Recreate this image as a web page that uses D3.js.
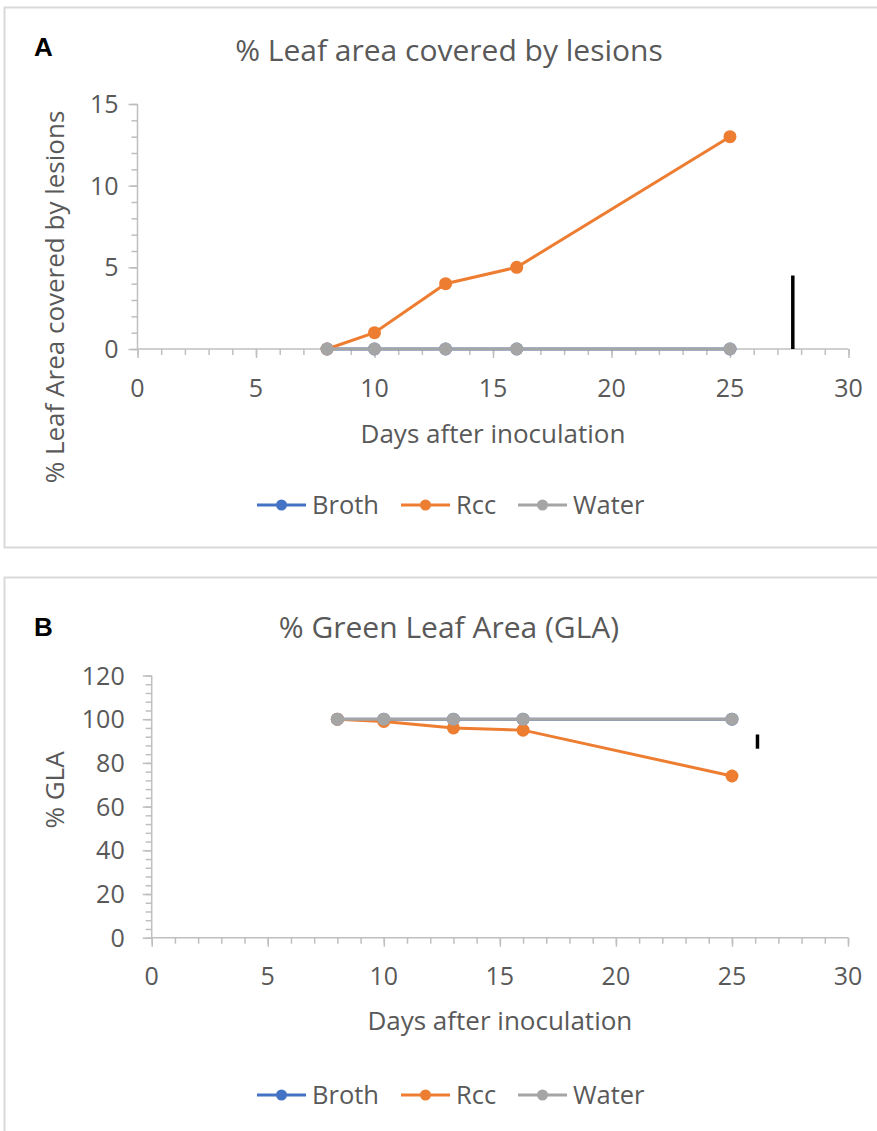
<!DOCTYPE html>
<html>
<head>
<meta charset="utf-8">
<script src="https://cdn.jsdelivr.net/npm/d3@7"></script>
<style>
  body { margin: 0; background: #fff; }
  text { font-family: "Open Sans", sans-serif; fill: #595959; }
</style>
</head>
<body>
<svg width="877" height="1131"></svg>
<script>
// data
var days = [8, 10, 13, 16, 25];
var seriesNames = ["Broth", "Rcc", "Water"];
var seriesColors = ["#4472C4", "#ED7D31", "#A5A5A5"];

var lesionBroth = [0, 0, 0, 0, 0];
var lesionRcc = [0, 1, 4, 5, 13];
var lesionWater = [0, 0, 0, 0, 0];

var glaBroth = [100, 100, 100, 100, 100];
var glaRcc = [100, 99, 96, 95, 74];
var glaWater = [100, 100, 100, 100, 100];

// black bar drawn at the right of each plot: [day, low, high]
var barA = [27.65, 0, 4.5];
var barB = [26.1, 86.5, 93];

var xTicks = [0, 5, 10, 15, 20, 25, 30];
var yTicksA = [0, 5, 10, 15];
var yTicksB = [0, 20, 40, 60, 80, 100, 120];

var svg = d3.select("svg");
svg.append("rect").attr("width", 877).attr("height", 1131).attr("fill", "#fff");

function drawPanel(p) {
  var g = svg.append("g");

  // frame around the panel
  g.append("rect")
    .attr("x", 4.5).attr("y", p.top + 0.5)
    .attr("width", 880).attr("height", p.frameH)
    .attr("fill", "none").attr("stroke", "#d9d9d9").attr("stroke-width", 2);

  g.append("text").text(p.letter)
    .attr("x", 34).attr("y", p.letterY)
    .style("font-family", "'Liberation Sans', Arial, sans-serif")
    .style("font-weight", "bold").style("font-size", "26px").style("fill", "#000");

  g.append("text").text(p.title)
    .attr("x", 449).attr("y", p.titleY)
    .attr("text-anchor", "middle").style("font-size", "30px");

  var x = d3.scaleLinear().domain([0, 30]).range([p.x0, p.x1]);
  var y = d3.scaleLinear().domain([0, p.ymax]).range([p.y0, p.y1]);

  // minor ticks
  var xAxisG = g.append("g").attr("transform", "translate(0," + p.y0 + ")");
  xAxisG.call(d3.axisBottom(x).tickValues(d3.range(0, 31, 1)).tickSize(6).tickFormat(""));
  xAxisG.append("g").call(d3.axisBottom(x).tickValues(xTicks).tickSize(9).tickFormat(""));
  xAxisG.selectAll("path, line").attr("stroke", "#bfbfbf").attr("stroke-width", 1.5);

  var yAxisG = g.append("g").attr("transform", "translate(" + p.x0 + ",0)");
  yAxisG.call(d3.axisLeft(y).tickValues(d3.range(0, p.ymax + 0.1, p.minor)).tickSize(6).tickFormat(""));
  yAxisG.append("g").call(d3.axisLeft(y).tickValues(p.yTicks).tickSize(9).tickFormat(""));
  yAxisG.selectAll("path, line").attr("stroke", "#bfbfbf").attr("stroke-width", 1.5);
  g.selectAll(".domain").attr("d", null);
  xAxisG.append("line").attr("x1", p.x0).attr("x2", p.x1)
    .attr("stroke", "#bfbfbf").attr("stroke-width", 1.5);
  yAxisG.append("line").attr("y1", p.y0).attr("y2", p.y1)
    .attr("stroke", "#bfbfbf").attr("stroke-width", 1.5);

  // tick labels
  g.selectAll(null).data(xTicks).enter().append("text")
    .attr("x", (d) => x(d)).attr("y", p.y0 + p.xLabOff)
    .attr("text-anchor", "middle").style("font-size", "25px")
    .text((d) => d);
  g.selectAll(null).data(p.yTicks).enter().append("text")
    .attr("x", p.x0 - p.yLabOff).attr("y", (d) => y(d))
    .attr("text-anchor", "end").attr("dy", "0.36em").style("font-size", "25px")
    .text((d) => d);

  // axis titles
  g.append("text").text("Days after inoculation")
    .attr("x", (p.x0 + p.x1) / 2).attr("y", p.xTitleY)
    .attr("text-anchor", "middle").style("font-size", "26px");
  g.append("text").text(p.yTitle)
    .attr("transform", "translate(64," + p.yTitleMid + ") rotate(-90)")
    .attr("text-anchor", "middle").style("font-size", "26px");

  // series: Broth first, Water last (drawn on top)
  var line = d3.line().x((d) => x(d[0])).y((d) => y(d[1]));
  p.series.forEach(function (vals, i) {
    var pts = days.map((d, j) => [d, vals[j]]);
    g.append("path").datum(pts)
      .attr("d", line).attr("fill", "none")
      .attr("stroke", seriesColors[i]).attr("stroke-width", 3);
    g.selectAll(null).data(pts).enter().append("circle")
      .attr("cx", (d) => x(d[0])).attr("cy", (d) => y(d[1]))
      .attr("r", 6.5).attr("fill", seriesColors[i]);
  });

  g.append("line")
    .attr("x1", x(p.bar[0])).attr("x2", x(p.bar[0]))
    .attr("y1", y(p.bar[1])).attr("y2", y(p.bar[2]))
    .attr("stroke", "#000").attr("stroke-width", 3.5);

  // legend
  var legX = [257, 401, 518];
  seriesNames.forEach(function (name, i) {
    var lg = g.append("g").attr("transform", "translate(" + legX[i] + "," + p.legendY + ")");
    lg.append("line").attr("x1", 0).attr("x2", 49)
      .attr("stroke", seriesColors[i]).attr("stroke-width", 3);
    lg.append("circle").attr("cx", 24.5).attr("r", 5.5).attr("fill", seriesColors[i]);
    lg.append("text").text(name).attr("x", 55).attr("dy", "0.36em").style("font-size", "25.5px");
  });
}

drawPanel({
  letter: "A", top: 7, frameH: 540, letterY: 56,
  title: "% Leaf area covered by lesions", titleY: 61,
  x0: 137.5, x1: 848.5, y0: 349, y1: 104, ymax: 15, minor: 1, yTicks: yTicksA,
  xLabOff: 48, yLabOff: 19, xTitleY: 443,
  yTitle: "% Leaf Area covered by lesions", yTitleMid: 297,
  series: [lesionBroth, lesionRcc, lesionWater], bar: barA, legendY: 505
});

drawPanel({
  letter: "B", top: 577, frameH: 600, letterY: 636,
  title: "% Green Leaf Area (GLA)", titleY: 638,
  x0: 151.7, x1: 848, y0: 937.7, y1: 675.5, ymax: 120, minor: 4, yTicks: yTicksB,
  xLabOff: 47, yLabOff: 27, xTitleY: 1030,
  yTitle: "% GLA", yTitleMid: 790,
  series: [glaBroth, glaRcc, glaWater], bar: barB, legendY: 1095
});
</script>
</body>
</html>
